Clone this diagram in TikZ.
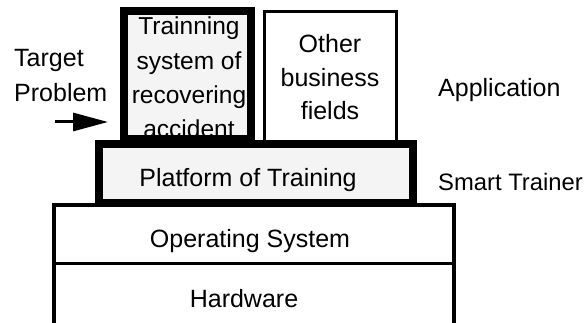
\documentclass[tikz,border=0pt]{standalone}
\usepackage{fontspec}
\setmainfont{Liberation Sans}
\usetikzlibrary{arrows.meta}
\definecolor{boxgray}{RGB}{244,244,244}
\begin{document}
\begin{tikzpicture}[x=1pt,y=-1pt,
  box/.style={rectangle, outer sep=0pt, inner sep=0pt},
  thickbox/.style={box, draw=black, line width=8pt, fill=boxgray},
  thinbox/.style={box, draw=black, line width=3pt, fill=white},
  layer/.style={box, draw=black, line width=3.5pt, fill=white},
  txt/.style={anchor=base, inner sep=0pt, font=\fontsize{25}{34}\selectfont},
  arr/.style={line width=3pt, -{Triangle[length=35pt,width=18pt]}},
]
\useasboundingbox (0,0) rectangle (586,323);
\clip (0,0) rectangle (586,323);
% layers
\node[layer, minimum width=400.25, minimum height=80] (hw) at (253.875,303.5) {};
\node[layer, minimum width=400.25, minimum height=58.5] (os) at (253.875,234.25) {};
% other business box
\node[thinbox, minimum width=132, minimum height=134] (ob) at (330.5,78.5) {};
\node[txt, font=\fontsize{25}{33.5}\selectfont] (tother) at (330,53)
  {\begin{tabular}[t]{@{}c@{}}Other\\business\\fields\end{tabular}};
% training system box
\node[box, fill=boxgray, minimum width=127, minimum height=128] (tb) at (187.5,75) {};
\node[txt, font=\fontsize{24.5}{34.3}\selectfont] (ttrain) at (189,35)
  {\begin{tabular}[t]{@{}c@{}}Trainning\\system of\\recovering\\accident\end{tabular}};
\draw[line width=8pt] (tb.north west) rectangle (tb.south east);
% platform
\node[thickbox, minimum width=314, minimum height=59] (pf) at (256,173.5) {};
\node[txt] (tplat) at (248,186) {Platform of Training};
\node[txt] (tos) at (250,247) {Operating System};
\node[txt] (thw) at (244,307) {Hardware};
% side labels
\node[txt, anchor=base west, font=\fontsize{25}{35}\selectfont] (ttarget) at (14,67)
  {\begin{tabular}[t]{@{}l@{}}Target\\Problem\end{tabular}};
\node[txt, anchor=base west] (tapp) at (438,97) {Application};
\node[txt, anchor=base west, font=\fontsize{23.8}{34}\selectfont] (tsmart) at (438,190) {Smart Trainer};
% arrow
\coordinate (as) at (55,122);
\coordinate (ae) at (108,122);
\draw[arr] (as) -- (ae);
\end{tikzpicture}
\end{document}
